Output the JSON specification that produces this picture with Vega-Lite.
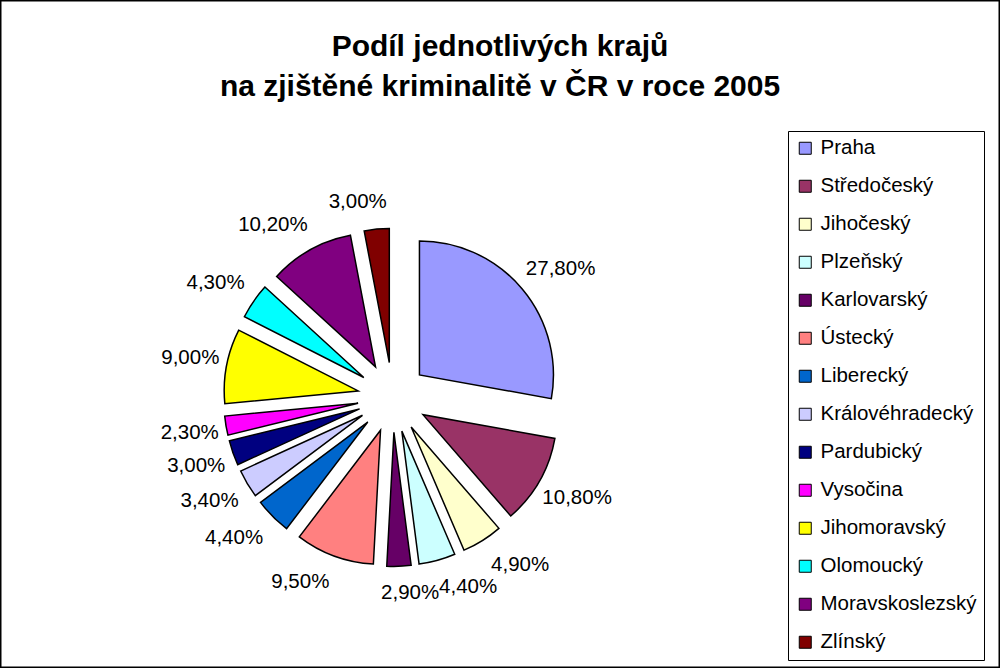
{
  "$schema": "https://vega.github.io/schema/vega-lite/v6.json",
  "width": 1000,
  "height": 668,
  "autosize": {"type": "none"},
  "padding": 0,
  "background": "white",
  "view": {"stroke": "black", "strokeWidth": 3},
  "config": {"font": "Liberation Sans"},
  "title": {
    "text": ["Podíl jednotlivých krajů", "na zjištěné kriminalitě v ČR v roce 2005"],
    "anchor": "middle",
    "frame": "group",
    "orient": "top",
    "fontSize": 30,
    "fontWeight": "bold",
    "font": "Liberation Sans",
    "color": "black",
    "lineHeight": 40,
    "baseline": "alphabetic",
    "offset": -126
  },
  "data": {
    "values": [
      {"i": 1, "kraj": "Praha", "v": 27.8, "label": "27,80%"},
      {"i": 2, "kraj": "Středočeský", "v": 10.8, "label": "10,80%"},
      {"i": 3, "kraj": "Jihočeský", "v": 4.9, "label": "4,90%"},
      {"i": 4, "kraj": "Plzeňský", "v": 4.4, "label": "4,40%"},
      {"i": 5, "kraj": "Karlovarský", "v": 2.9, "label": "2,90%"},
      {"i": 6, "kraj": "Ústecký", "v": 9.5, "label": "9,50%"},
      {"i": 7, "kraj": "Liberecký", "v": 4.4, "label": "4,40%"},
      {"i": 8, "kraj": "Královéhradecký", "v": 3.4, "label": "3,40%"},
      {"i": 9, "kraj": "Pardubický", "v": 3.0, "label": "3,00%"},
      {"i": 10, "kraj": "Vysočina", "v": 2.3, "label": "2,30%"},
      {"i": 11, "kraj": "Jihomoravský", "v": 9.0, "label": "9,00%"},
      {"i": 12, "kraj": "Olomoucký", "v": 4.3, "label": "4,30%"},
      {"i": 13, "kraj": "Moravskoslezský", "v": 10.2, "label": "10,20%"},
      {"i": 14, "kraj": "Zlínský", "v": 3.0, "label": "3,00%"}
    ]
  },
  "transform": [
    {"window": [{"op": "sum", "field": "v", "as": "cum"}], "sort": [{"field": "i"}], "frame": [null, 0]},
    {"joinaggregate": [{"op": "sum", "field": "v", "as": "total"}]},
    {"calculate": "2 * PI * (datum.cum - datum.v / 2) / datum.total", "as": "mid"},
    {"calculate": "sin(datum.mid)", "as": "ex"},
    {"calculate": "cos(datum.mid)", "as": "ey"}
  ],
  "resolve": {"scale": {"x": "independent", "y": "independent"}},
  "layer": [
    {
      "mark": {"type": "arc", "outerRadius": 134, "stroke": "black", "strokeWidth": 1.5},
      "encoding": {
        "theta": {"field": "v", "type": "quantitative", "stack": true},
        "order": {"field": "i", "type": "quantitative"},
        "x": {"field": "ex", "type": "quantitative", "scale": {"domain": [-1, 1], "range": [357.6, 427.6], "nice": false, "zero": false}, "axis": null},
        "y": {"field": "ey", "type": "quantitative", "scale": {"domain": [-1, 1], "range": [432.4, 362.4], "nice": false, "zero": false}, "axis": null},
        "color": {
          "field": "kraj",
          "type": "nominal",
          "sort": null,
          "scale": {
            "domain": ["Praha", "Středočeský", "Jihočeský", "Plzeňský", "Karlovarský", "Ústecký", "Liberecký", "Královéhradecký", "Pardubický", "Vysočina", "Jihomoravský", "Olomoucký", "Moravskoslezský", "Zlínský"],
            "range": ["#9999FF", "#993366", "#FFFFCC", "#CCFFFF", "#660066", "#FF8080", "#0066CC", "#CCCCFF", "#000080", "#FF00FF", "#FFFF00", "#00FFFF", "#800080", "#800000"]
          },
          "legend": {
            "orient": "none",
            "legendX": 788,
            "legendY": 131,
            "title": null,
            "symbolType": "square",
            "symbolSize": 144,
            "symbolStrokeColor": "black",
            "symbolStrokeWidth": 1,
            "labelFontSize": 20.5,
            "labelFont": "Liberation Sans",
            "labelColor": "black",
            "labelOffset": 5,
            "labelLimit": 300,
            "rowPadding": 17,
            "padding": 7,
            "strokeColor": "black",
            "fillColor": "white"
          }
        }
      }
    },
    {
      "mark": {"type": "text", "fontSize": 20.5, "font": "Liberation Sans", "color": "black", "align": "center", "baseline": "middle"},
      "encoding": {
        "x": {"field": "ex", "type": "quantitative", "scale": {"type": "pow", "exponent": 0.75, "domain": [-1, 1], "range": [187.6, 597.6], "nice": false, "zero": false}, "axis": null},
        "y": {"field": "ey", "type": "quantitative", "scale": {"type": "pow", "exponent": 0.95, "domain": [-1, 1], "range": [593.4, 201.4], "nice": false, "zero": false}, "axis": null},
        "text": {"field": "label", "type": "nominal"}
      }
    }
  ]
}
